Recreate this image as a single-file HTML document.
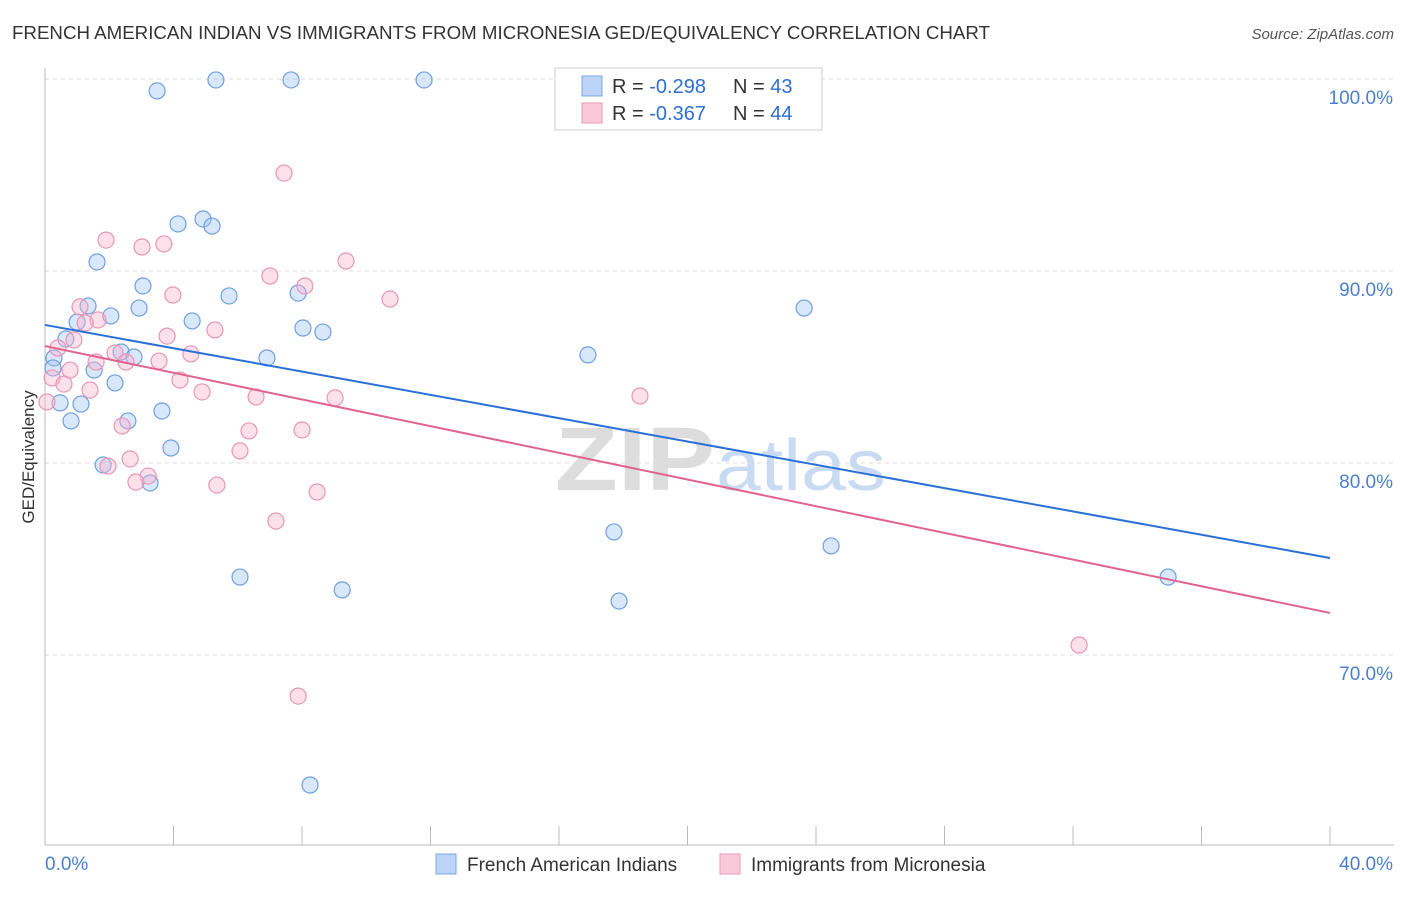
<!DOCTYPE html>
<html><head><meta charset="utf-8"><style>
body{margin:0;background:#fff;font-family:"Liberation Sans",sans-serif;}
svg text{font-family:"Liberation Sans",sans-serif;}
</style></head><body>
<svg id="c" width="1406" height="892" xmlns="http://www.w3.org/2000/svg">
<text x="12" y="39" font-size="18" fill="#333" textLength="978" lengthAdjust="spacingAndGlyphs">FRENCH AMERICAN INDIAN VS IMMIGRANTS FROM MICRONESIA GED/EQUIVALENCY CORRELATION CHART</text>
<text x="1394" y="39" font-size="15" fill="#555" font-style="italic" text-anchor="end">Source: ZipAtlas.com</text>
<g id="grid"></g>
<text x="715" y="490" font-size="90" fill="#ddd" text-anchor="end" font-family="Liberation Serif" font-weight="bold" textLength="160" lengthAdjust="spacingAndGlyphs">ZIP</text>
<text x="716" y="490" font-size="72" fill="#c9daf3" textLength="170" lengthAdjust="spacingAndGlyphs">atlas</text>
<g id="axes"></g>
<g id="pts"></g>
<g id="lines"></g>
<g>
<rect x="555" y="68" width="267" height="62" fill="#fff" stroke="#ccc"/>
<rect x="582" y="76" width="20" height="20" fill="#bcd4f6" stroke="#7aa7e6"/>
<rect x="582" y="103" width="20" height="20" fill="#f9c9da" stroke="#eb9ab8"/>
<text x="612" y="93" font-size="20" fill="#333">R = <tspan fill="#2f6fd4">-0.298</tspan></text>
<text x="733" y="93" font-size="20" fill="#333">N = <tspan fill="#2f6fd4">43</tspan></text>
<text x="612" y="120" font-size="20" fill="#333">R = <tspan fill="#2f6fd4">-0.367</tspan></text>
<text x="733" y="120" font-size="20" fill="#333">N = <tspan fill="#2f6fd4">44</tspan></text>
</g>
<g>
<rect x="436" y="854" width="20" height="20" fill="#bcd4f6" stroke="#7aa7e6"/>
<text x="467" y="871" font-size="19" fill="#333">French American Indians</text>
<rect x="720" y="854" width="20" height="20" fill="#f9c9da" stroke="#eb9ab8"/>
<text x="751" y="871" font-size="19" fill="#333">Immigrants from Micronesia</text>
</g>
<text x="34" y="457" font-size="17" fill="#333" text-anchor="middle" transform="rotate(-90 34 457)">GED/Equivalency</text>
</svg>
<script>
const blueX=[3.49,5.32,7.66,11.80,4.14,4.92,5.20,1.62,3.05,5.73,7.88,1.34,2.93,2.05,4.58,1.00,8.03,8.65,0.65,2.37,2.77,6.91,0.28,16.90,23.63,1.53,0.25,2.18,0.47,1.12,3.64,0.81,2.58,3.92,1.81,3.27,17.71,24.47,6.07,9.25,34.96,17.87,8.25];
const blueY=[99.38,99.95,99.95,99.95,92.45,92.71,92.34,90.47,89.22,88.70,88.85,88.18,88.07,87.66,87.40,87.34,87.03,86.82,86.46,85.78,85.52,85.47,85.47,85.63,88.07,84.84,84.95,84.17,83.13,83.07,82.71,82.19,82.19,80.78,79.90,78.96,76.41,75.68,74.06,73.39,74.06,72.81,63.23];
const pinkX=[7.44,1.90,3.02,3.70,9.37,7.00,8.09,3.98,10.74,1.09,1.65,1.25,3.80,5.29,0.90,0.40,4.54,2.18,1.59,2.52,3.55,0.78,0.22,0.59,4.20,1.40,4.89,6.57,9.03,18.52,0.06,2.40,6.35,8.00,6.07,2.65,1.96,3.21,2.83,5.35,8.47,7.19,32.19,7.88];
const pinkY=[95.10,91.61,91.25,91.41,90.52,89.74,89.22,88.75,88.54,88.13,87.45,87.29,86.61,86.93,86.41,85.99,85.68,85.73,85.26,85.26,85.31,84.84,84.43,84.11,84.32,83.80,83.70,83.44,83.39,83.49,83.18,81.93,81.67,81.72,80.63,80.21,79.84,79.32,79.01,78.85,78.49,76.98,70.52,67.86];
const blueTrend=[87.19,75.05];
const pinkTrend=[86.09,72.19];
const yTicks=[100,90,80,70];
const yTickLabels=["100.0%","90.0%","80.0%","70.0%"];
const xTicks=[0,4,8,12,16,20,24,28,32,36,40];
const xEndLabels=["0.0%","40.0%"];
const X=v=>45+v/40*1285, Y=v=>79+(100-v)*19.2;
const NS="http://www.w3.org/2000/svg";
function mk(p,t,a){const e=document.createElementNS(NS,t);for(const k in a)e.setAttribute(k,a[k]);p.appendChild(e);return e;}
const g=document.getElementById('grid'),ax=document.getElementById('axes'),pts=document.getElementById('pts'),ln=document.getElementById('lines');
yTicks.forEach((v,i)=>{
 const l=mk(g,'line',{x1:45,x2:1394,y1:Y(v),y2:Y(v),stroke:'#ddd','stroke-dasharray':'4,4'});
 
 
 const t=mk(ax,'text',{x:1393,y:Y(v)+25,'font-size':19,fill:'#4a7fd0','text-anchor':'end'});t.textContent=yTickLabels[i];
 
 
});
const a1=mk(ax,'line',{x1:45,x2:45,y1:68,y2:845,stroke:'#bbb'});


const a2=mk(ax,'line',{x1:45,x2:1394,y1:845,y2:845,stroke:'#bbb'});


xTicks.forEach(v=>{const t=mk(ax,'line',{x1:X(v),x2:X(v),y1:826,y2:845,stroke:'#bbb'});
 
 });
const l0=mk(ax,'text',{x:45,y:870,'font-size':19,fill:'#4a7fd0'});l0.textContent=xEndLabels[0];


const l1=mk(ax,'text',{x:1393,y:870,'font-size':19,fill:'#4a7fd0','text-anchor':'end'});l1.textContent=xEndLabels[1];


blueX.forEach((x,i)=>{const c=mk(pts,'circle',{cx:X(x),cy:Y(blueY[i]),r:8,fill:'rgba(160,195,242,0.4)',stroke:'#6f9fe0','stroke-width':1.2});
 
 });
pinkX.forEach((x,i)=>{const c=mk(pts,'circle',{cx:X(x),cy:Y(pinkY[i]),r:8,fill:'rgba(247,180,205,0.4)',stroke:'#e995b5','stroke-width':1.2});
 
 });
const tb=mk(ln,'line',{x1:X(0),y1:Y(blueTrend[0]),x2:X(40),y2:Y(blueTrend[1]),stroke:'#2a6fd6','stroke-width':2});


const tp=mk(ln,'line',{x1:X(0),y1:Y(pinkTrend[0]),x2:X(40),y2:Y(pinkTrend[1]),stroke:'#e0648d','stroke-width':2});


</script>
</body></html>
